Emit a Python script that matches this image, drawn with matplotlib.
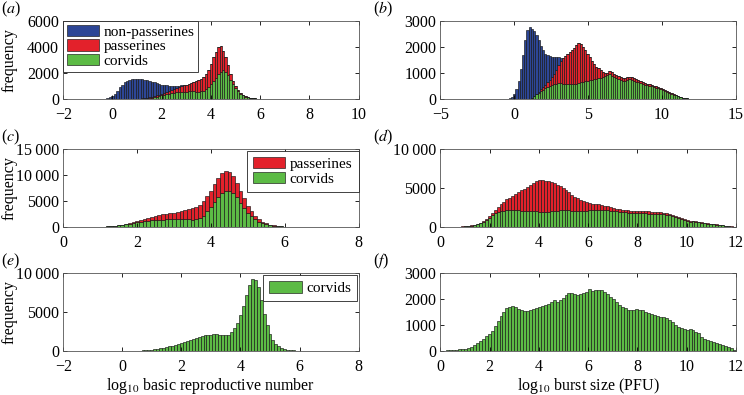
import matplotlib
matplotlib.use("Agg")
import matplotlib.pyplot as plt
import numpy as np
from matplotlib.ticker import FuncFormatter

plt.rcParams['font.family'] = ['Liberation Serif', 'DejaVu Serif']
plt.rcParams['mathtext.fontset'] = 'stix'
plt.rcParams['font.size'] = 11.5

BLUE = '#2d4696'
RED = '#e3212b'
GREEN = '#5cbb45'

# ---- panel (a): log10 R0, all birds (bins of 0.1 from -0.5) ----
a_start, a_width = -0.5, 0.1
a_corvids = [0, 0, 0, 0, 0, 0, 0, 0, 0, 0,
             0, 0, 5, 10, 15, 20, 30, 40, 55, 70,
             90, 120, 150, 190, 230, 280, 330, 380, 420, 460,
             490, 520, 540, 560, 570, 580, 590, 590, 590, 580,
             580, 600, 650, 750, 900, 1150, 1400, 1650, 1900, 2100,
             2200, 2100, 1850, 1500, 1150, 850, 600, 420, 290, 200,
             140, 100, 70, 50, 35, 25, 18, 12, 8, 5,
             3]
a_passerines = [0, 0, 0, 0, 0, 0, 0, 0, 0, 0,
                0, 0, 0, 0, 5, 10, 15, 20, 25, 40,
                50, 60, 80, 100, 120, 140, 160, 180, 210, 240,
                290, 330, 380, 430, 490, 540, 590, 650, 710, 790,
                870, 950, 1050, 1150, 1300, 1550, 1800, 2000, 2100, 1950,
                1500, 1100, 750, 450, 250, 150, 100, 60, 40, 30,
                20, 10, 10, 5, 5, 3, 2, 2, 1, 1,
                1]
a_nonpasserines = [5, 10, 25, 60, 130, 250, 420, 650, 900, 1120,
                   1300, 1420, 1495, 1540, 1530, 1530, 1495, 1450, 1400, 1330,
                   1260, 1170, 1070, 950, 830, 700, 590, 490, 400, 320,
                   240, 180, 120, 60, 10, 0, 0, 0, 0, 0,
                   0, 0, 0, 0, 0, 0, 0, 0, 0, 0,
                   0, 0, 0, 0, 0, 0, 0, 0, 0, 0,
                   0, 0, 0, 0, 0, 0, 0, 0, 0, 0,
                   0]

# ---- panel (b): log10 burst size, all birds (bins of 0.15 from -0.45) ----
b_start, b_width = -0.45, 0.15
b_corvids = [0, 0, 0, 0, 0, 0, 0, 0, 0, 5,
             20, 55, 110, 180, 240, 300, 360, 410, 460, 510,
             550, 580, 600, 610, 610, 600, 590, 580, 570, 570,
             580, 600, 620, 640, 660, 680, 700, 720, 740, 760,
             780, 800, 820, 850, 880, 930, 960, 900, 840, 800,
             770, 740, 710, 700, 730, 760, 740, 700, 670, 640,
             610, 580, 560, 540, 510, 490, 470, 440, 410, 370,
             340, 310, 280, 250, 210, 175, 140, 105, 80, 55,
             40, 25, 12, 4]
b_passerines = [0, 0, 0, 0, 0, 0, 0, 0, 0, 0,
                0, 5, 10, 30, 50, 70, 90, 130, 180, 230,
                300, 380, 520, 690, 840, 960, 1060, 1140, 1230, 1310,
                1400, 1480, 1530, 1460, 1340, 1200, 1050, 880, 710, 570,
                470, 380, 280, 200, 120, 90, 120, 150, 140, 140,
                110, 110, 110, 110, 110, 100, 100, 100, 90, 80,
                80, 70, 70, 60, 60, 60, 50, 50, 40, 40,
                40, 35, 30, 25, 25, 20, 15, 10, 8, 7,
                4, 3, 2, 1]
b_nonpasserines = [20, 50, 100, 200, 380, 700, 1150, 1700, 2250, 2645,
                   2730, 2640, 2480, 2240, 1960, 1680, 1450, 1210, 1040, 900,
                   770, 650, 500, 300, 130, 30, 0, 0, 0, 0,
                   0, 0, 0, 0, 0, 0, 0, 0, 0, 0,
                   0, 0, 0, 0, 0, 0, 0, 0, 0, 0,
                   0, 0, 0, 0, 0, 0, 0, 0, 0, 0,
                   0, 0, 0, 0, 0, 0, 0, 0, 0, 0,
                   0, 0, 0, 0, 0, 0, 0, 0, 0, 0,
                   0, 0, 0, 0]

# ---- panel (c): log10 R0, passerines (bins of 0.1 from 0.4) ----
c_start, c_width = 0.4, 0.1
c_corvids = [5, 10, 15, 25, 40, 60, 80, 110, 150, 200,
             260, 340, 430, 540, 680, 820, 950, 1050, 1150, 1250,
             1320, 1380, 1420, 1450, 1470, 1480, 1500, 1500, 1500, 1490,
             1470, 1450, 1480, 1700, 2200, 3000, 3900, 4900, 5800, 6500,
             7000, 6950, 6500, 5700, 4700, 3700, 2800, 2050, 1500, 1050,
             750, 520, 360, 250, 170, 120, 85, 60, 45, 35,
             25, 20, 15, 10, 8, 5, 3]
c_passerines = [0, 0, 0, 0, 0, 0, 5, 5, 10, 10,
                20, 30, 50, 70, 90, 130, 200, 300, 400, 500,
                630, 720, 830, 1000, 1130, 1220, 1300, 1450, 1600, 1760,
                1930, 2150, 2370, 2600, 2800, 2900, 3100, 3300, 3600, 3900,
                3800, 3650, 3300, 2800, 2300, 1800, 1300, 950, 650, 450,
                300, 200, 140, 90, 60, 40, 25, 20, 15, 10,
                7, 5, 3, 2, 1, 1, 1]

# ---- panel (d): log10 burst size, passerines (bins of 0.12 from 0.3) ----
d_start, d_width = 0.3, 0.12
d_corvids = [10, 15, 25, 35, 50, 70, 100, 140, 200, 270,
             380, 520, 700, 920, 1200, 1500, 1750, 1900, 2000, 2080,
             2150, 2180, 2200, 2180, 2150, 2120, 2100, 2080, 2050, 2020,
             2000, 1980, 1950, 1920, 1950, 2000, 2050, 2100, 2150, 2200,
             2200, 2150, 2100, 2050, 2050, 2080, 2100, 2120, 2150, 2150,
             2200, 2230, 2250, 2200, 2150, 2100, 2050, 2000, 1950, 1900,
             1880, 1850, 1830, 1820, 1800, 1790, 1780, 1760, 1740, 1720,
             1700, 1680, 1650, 1620, 1580, 1500, 1400, 1300, 1150, 1000,
             850, 750, 700, 720, 680, 620, 560, 500, 450, 400,
             350, 300, 260, 220, 170, 120, 70, 30]
d_passerines = [0, 0, 0, 0, 5, 10, 10, 20, 20, 30,
                40, 60, 100, 160, 250, 350, 450, 650, 900, 1170,
                1400, 1570, 1800, 2070, 2350, 2580, 2800, 3070, 3350, 3630,
                3900, 4070, 4100, 4030, 3900, 3750, 3550, 3350, 3100, 2800,
                2550, 2300, 2050, 1850, 1650, 1420, 1250, 1080, 950, 850,
                750, 670, 600, 550, 500, 450, 400, 350, 330, 300,
                270, 300, 270, 280, 280, 270, 270, 270, 260, 260,
                250, 240, 230, 210, 200, 200, 200, 180, 170, 150,
                130, 110, 100, 80, 80, 70, 60, 60, 50, 50,
                40, 40, 30, 25, 20, 15, 10, 5]

# ---- panel (e): log10 R0, corvids (bins of 0.1 from -0.2) ----
e_start, e_width = -0.2, 0.1
e_corvids = [10, 15, 20, 25, 30, 40, 50, 60, 80, 100,
             130, 170, 210, 260, 310, 370, 440, 520, 600, 700,
             800, 900, 1000, 1120, 1250, 1400, 1550, 1700, 1850, 1950,
             2050, 2080, 2100, 2180, 2150, 2100, 2080, 2050, 2100, 2400,
             2900, 3600, 4600, 5800, 7200, 8400, 9200, 9100, 8200, 6600,
             4800, 3300, 2200, 1400, 900, 600, 400, 280, 200, 150,
             110, 80, 60, 45, 35, 25, 20, 15, 10, 8,
             5]

# ---- panel (f): log10 burst size, corvids (bins of 0.12 from 0.06) ----
f_start, f_width = 0.06, 0.12
f_corvids = [20, 25, 30, 35, 45, 55, 70, 85, 100, 130,
             170, 230, 300, 380, 480, 570, 660, 780, 950, 1150,
             1350, 1520, 1650, 1700, 1720, 1690, 1620, 1560, 1530, 1550,
             1580, 1610, 1640, 1700, 1720, 1760, 1800, 1900, 1970, 1900,
             1950, 2050, 2150, 2220, 2230, 2200, 2150, 2180, 2220, 2250,
             2380, 2300, 2330, 2350, 2360, 2270, 2200, 2080, 2000, 1900,
             1780, 1700, 1640, 1580, 1560, 1580, 1600, 1590, 1560, 1500,
             1470, 1420, 1380, 1330, 1300, 1310, 1270, 1200, 1100, 1000,
             940, 880, 850, 830, 850, 800, 750, 680, 560, 480,
             430, 380, 340, 300, 260, 220, 190, 160, 110, 40]


def thousands(v, pos):
    v = int(round(v))
    if v >= 10000:
        return '{:,}'.format(v).replace(',', '\u2009')
    return str(v)


def stacked(ax, start, width, series):
    # series: list of (values, colour, label), bottom first
    n = len(series[0][0])
    x = start + width * np.arange(n)
    bottom = np.zeros(n)
    handles = []
    for vals, col, lab in series:
        vals = np.asarray(vals, dtype=float)
        h = ax.bar(x, vals, width=width, bottom=bottom, color=col,
                   edgecolor='#161616', linewidth=0.45, label=lab)
        handles.append(h)
        bottom = bottom + vals
    return handles[::-1]


def style(ax, xlim, ylim, xticks, yticks):
    ax.set_xlim(*xlim)
    ax.set_ylim(*ylim)
    ax.set_xticks(xticks)
    ax.set_yticks(yticks)
    ax.yaxis.set_major_formatter(FuncFormatter(thousands))
    ax.tick_params(direction='in', top=True, right=True, length=3,
                   width=0.6, labelsize=11.5)
    ax.tick_params(axis='x', pad=5.5)
    ax.tick_params(axis='y', pad=3)
    for s in ax.spines.values():
        s.set_linewidth(0.6)
        s.set_color('#555555')


def legend(ax, handles, loc, anchor, pad=0.3):
    leg = ax.legend(handles=handles, loc=loc, bbox_to_anchor=anchor,
                    fancybox=False, framealpha=1, edgecolor='#222222',
                    fontsize=11, handlelength=2.1, handleheight=0.75,
                    handletextpad=0.3, labelspacing=0.05, borderpad=pad,
                    borderaxespad=0)
    leg.get_frame().set_linewidth(0.6)


fig = plt.figure(figsize=(7.44, 3.95), dpi=100)
L1, L2, W = 0.085, 0.592, 0.397
rows = [0.749, 0.425, 0.111]
H = 0.198

ax_a = fig.add_axes([L1, rows[0], W, H])
ax_b = fig.add_axes([L2, rows[0], W, H])
ax_c = fig.add_axes([L1, rows[1], W, H])
ax_d = fig.add_axes([L2, rows[1], W, H])
ax_e = fig.add_axes([L1, rows[2], W, H])
ax_f = fig.add_axes([L2, rows[2], W, H])

h = stacked(ax_a, a_start, a_width, [(a_corvids, GREEN, 'corvids'),
                                     (a_passerines, RED, 'passerines'),
                                     (a_nonpasserines, BLUE, 'non-passerines')])
style(ax_a, (-2, 10), (0, 6000), range(-2, 11, 2), range(0, 6001, 2000))
legend(ax_a, h, 'upper left', (0, 1), pad=0.25)

stacked(ax_b, b_start, b_width, [(b_corvids, GREEN, 'corvids'),
                                 (b_passerines, RED, 'passerines'),
                                 (b_nonpasserines, BLUE, 'non-passerines')])
style(ax_b, (-5, 15), (0, 3000), range(-5, 16, 5), range(0, 3001, 1000))

h = stacked(ax_c, c_start, c_width, [(c_corvids, GREEN, 'corvids'),
                                     (c_passerines, RED, 'passerines')])
style(ax_c, (0, 8), (0, 15000), range(0, 9, 2), range(0, 15001, 5000))
legend(ax_c, h, 'upper right', (1, 0.975), pad=0.4)

stacked(ax_d, d_start, d_width, [(d_corvids, GREEN, 'corvids'),
                                 (d_passerines, RED, 'passerines')])
style(ax_d, (0, 12), (0, 10000), range(0, 13, 2), range(0, 10001, 5000))

h = stacked(ax_e, e_start, e_width, [(e_corvids, GREEN, 'corvids')])
style(ax_e, (-2, 8), (0, 10000), range(-2, 9, 2), range(0, 10001, 5000))
legend(ax_e, h, 'upper right', (0.995, 0.97), pad=0.4)

stacked(ax_f, f_start, f_width, [(f_corvids, GREEN, 'corvids')])
style(ax_f, (0, 12), (0, 3000), range(0, 13, 2), range(0, 3001, 1000))

for ax in (ax_a, ax_c, ax_e):
    ax.set_ylabel('frequency', fontsize=11.5)
    ax.yaxis.set_label_coords(-0.155, 0.5)

ax_e.set_xlabel(r'log$_{10}$ basic reproductive number', fontsize=11.5, labelpad=1)
ax_f.set_xlabel(r'log$_{10}$ burst size (PFU)', fontsize=11.5, labelpad=1)

for lab, ax, dx in (('a', ax_a, 0.0), ('b', ax_b, 0.5), ('c', ax_c, 0.0),
                    ('d', ax_d, 0.5), ('e', ax_e, 0.0), ('f', ax_f, 0.5)):
    pos = ax.get_position()
    fig.text(0.002 + dx, pos.y1 + 0.03, '($' + lab + '$)', fontsize=11.5,
             ha='left', va='center')

fig.savefig('out.png', dpi=100)
